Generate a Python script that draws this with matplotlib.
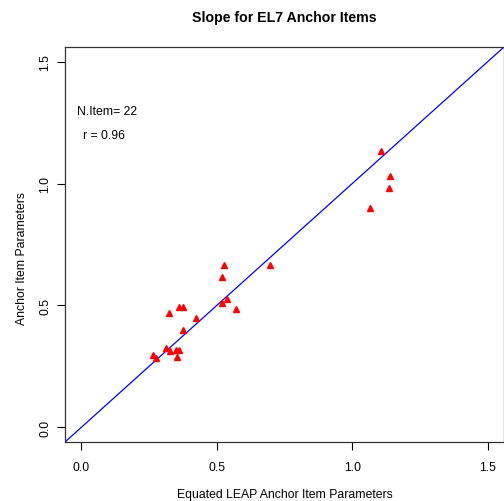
import matplotlib
matplotlib.use('Agg')
import matplotlib.pyplot as plt

# equated LEAP parameters (x) vs anchor item parameters (y)
equated = [1.106, 1.139, 1.135, 1.065, 0.698, 0.526, 0.521, 0.538, 0.521, 0.570,
           0.324, 0.361, 0.374, 0.425, 0.375, 0.311, 0.329, 0.348, 0.361, 0.353,
           0.265, 0.277]
anchor = [1.133, 1.031, 0.982, 0.900, 0.664, 0.664, 0.615, 0.527, 0.509, 0.486,
          0.471, 0.493, 0.493, 0.448, 0.400, 0.324, 0.314, 0.317, 0.318, 0.288,
          0.295, 0.284]
ticks = [0.0, 0.5, 1.0, 1.5]
tick_labels = ['0.0', '0.5', '1.0', '1.5']

plt.rcParams['font.family'] = ['Liberation Sans', 'DejaVu Sans']

fig = plt.figure(figsize=(5.04, 5.02), dpi=100)
ax = fig.add_axes([65/504, 59/502, 439/504, 395/502])

ax.plot([-0.06, 1.56], [-0.06, 1.56], color='#0000ff', lw=0.9)
ax.plot(equated, anchor, linestyle='none', marker='^', color='red', markersize=5)

ax.set_xlim(-0.06, 1.56)
ax.set_ylim(-0.06, 1.56)
ax.set_xticks(ticks)
ax.set_xticklabels(tick_labels)
ax.set_yticks(ticks)
ax.set_yticklabels(tick_labels, rotation=90, va='center')
ax.tick_params(direction='out', length=6, width=0.8, labelsize=8.8)
ax.tick_params(axis='x', pad=8)
ax.tick_params(axis='y', pad=4)

ax.text(0.097, 1.296, 'N.Item= 22', ha='center', va='center', fontsize=8.8)
ax.text(0.082, 1.198, 'r = 0.96', ha='center', va='center', fontsize=8.8)

for s in ax.spines.values():
    s.set_linewidth(0.9)
    s.set_color('#333333')

fig.text(0.565, 0.964, 'Slope for EL7 Anchor Items', ha='center', va='center',
         fontsize=10.2, fontweight='bold')
fig.text(0.565, 0.014, 'Equated LEAP Anchor Item Parameters', ha='center',
         va='center', fontsize=8.8)
fig.text(0.044, 0.485, 'Anchor Item Parameters', ha='center', va='center',
         rotation=90, fontsize=8.8)

fig.savefig('out.png', dpi=100)
